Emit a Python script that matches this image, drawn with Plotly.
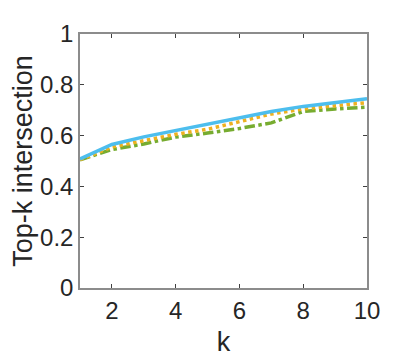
import plotly.graph_objects as go

k = [1, 2, 3, 4, 5, 6, 7, 8, 9, 10]
solid_blue = [0.508, 0.565, 0.595, 0.620, 0.645, 0.670, 0.695, 0.715, 0.730, 0.745]
dotted_orange = [0.505, 0.555, 0.580, 0.605, 0.625, 0.655, 0.685, 0.705, 0.718, 0.730]
dashdot_green = [0.505, 0.545, 0.567, 0.594, 0.610, 0.628, 0.650, 0.695, 0.705, 0.712]

y_ticks = [0, 0.2, 0.4, 0.6, 0.8, 1]
y_labels = ["0", "0.2", "0.4", "0.6", "0.8", "1"]

fig = go.Figure()

# draw green first so blue sits on top like the original
fig.add_trace(go.Scatter(x=k, y=dashdot_green, mode="lines",
                         line=dict(color="#77AC30", width=3.5, dash="dashdot")))
fig.add_trace(go.Scatter(x=k, y=dotted_orange, mode="lines",
                         line=dict(color="#EDB120", width=3.5, dash="dot")))
fig.add_trace(go.Scatter(x=k, y=solid_blue, mode="lines",
                         line=dict(color="#4DBEEE", width=3.5)))

axis_style = dict(
    showline=True, linecolor="#8c8c8c", linewidth=1.5, mirror="ticks",
    ticks="inside", ticklen=4, tickcolor="#404040", tickwidth=1,
    showgrid=False, zeroline=False,
    tickfont=dict(family="Liberation Sans, Arial", size=24, color="#262626"),
)

# page body has an 8px margin, so the figure is a bit smaller than the window
fig.update_layout(
    width=398, height=349,
    margin=dict(l=68, r=39, t=19, b=69),
    plot_bgcolor="white", paper_bgcolor="white",
    showlegend=False,
    font=dict(family="Liberation Sans, Arial", color="#262626"),
    xaxis=dict(range=[1, 10], tickvals=[2, 4, 6, 8, 10], automargin=False,
               title=dict(text="k", font=dict(size=27)), **axis_style),
    yaxis=dict(range=[0, 1], tickvals=y_ticks, ticktext=y_labels, automargin=True,
               title=dict(text="Top-k intersection", font=dict(size=27), standoff=1),
               **axis_style),
)

fig.write_html("out.html")
